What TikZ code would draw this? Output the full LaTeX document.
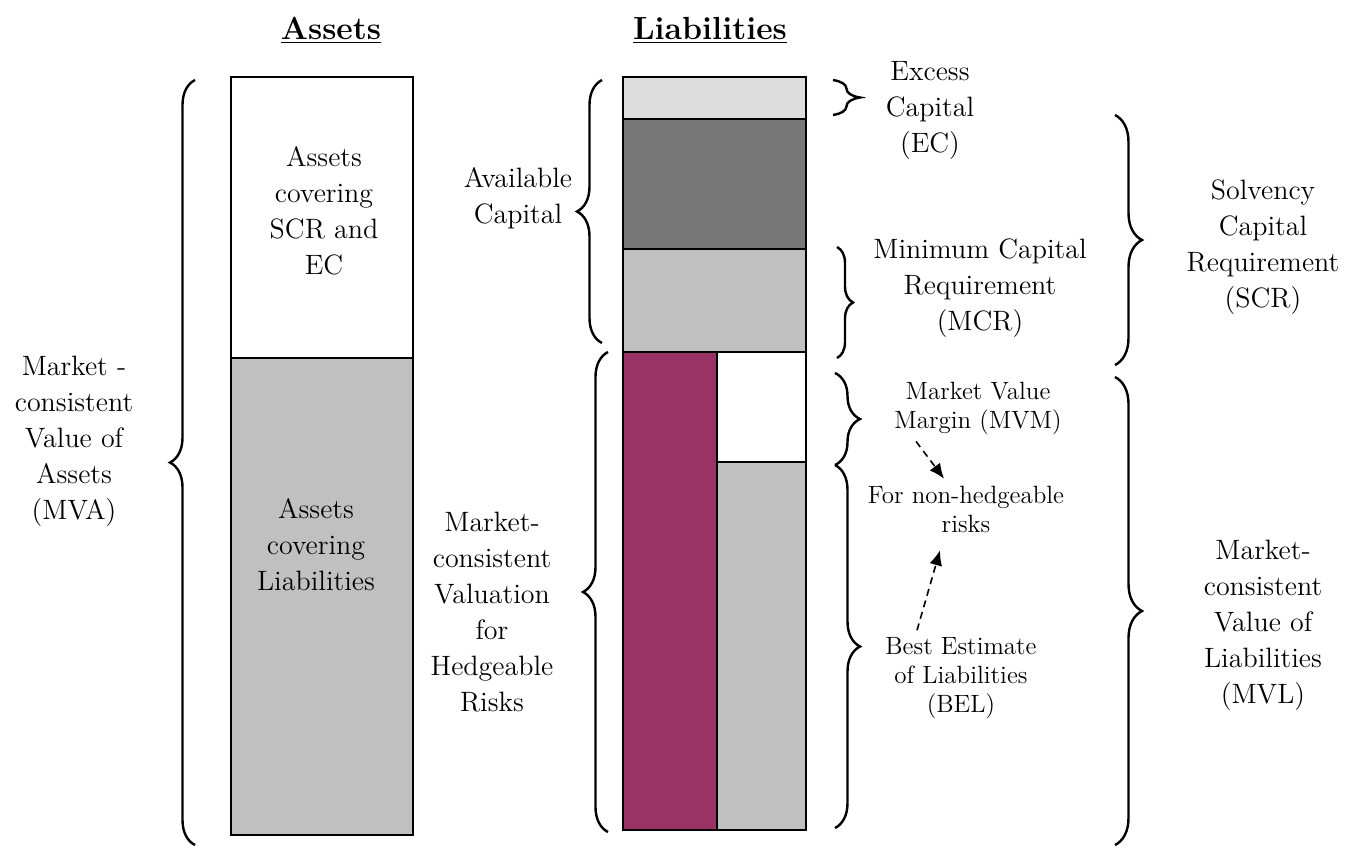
\documentclass[tikz,border=0pt]{standalone}
\usetikzlibrary{positioning,decorations.pathreplacing,arrows.meta}
\definecolor{maroon}{HTML}{993366}
\definecolor{lightgr}{HTML}{DDDDDD}
\definecolor{midgr}{HTML}{C0C0C0}
\definecolor{darkgr}{HTML}{777777}

\begin{document}
\begin{tikzpicture}[x=0.5pt, y=-0.5pt, every node/.style={font=\fontsize{14}{18}\selectfont, align=center}]
\tikzstyle{bar}=[draw, line width=1pt]
\tikzstyle{brc}=[decorate, decoration={brace, amplitude=12.5pt}, line width=1.2pt]
\tikzstyle{small}=[font=\fontsize{12.5}{14.5}\selectfont]
\tikzstyle{head}=[font=\fontsize{16}{20}\selectfont\bfseries]
\tikzstyle{dasharrow}=[dash pattern=on 3.5pt off 2.5pt, line width=0.8pt, -{Latex[length=7.5pt,width=6.5pt]}]
\useasboundingbox (0,0) rectangle (1348,847);

% headings
\node[head] (ha) at (331,30) {\underline{Assets}};
\node[head] (hl) at (710,30) {\underline{Liabilities}};

% asset column
\draw[bar, fill=white] (231,77) rectangle (413,358);
\draw[bar, fill=midgr] (231,358) rectangle (413,835);
\node (acs) at (324,211) {Assets\\covering\\SCR and\\EC};
\node (acl) at (316,545) {Assets\\covering\\Liabilities};

% liability column
\draw[bar, fill=lightgr] (623,77) rectangle (806,119);
\draw[bar, fill=darkgr] (623,119) rectangle (806,249);
\draw[bar, fill=midgr] (623,249) rectangle (806,352);
\draw[bar, fill=maroon] (623,352) rectangle (717,830);
\draw[bar, fill=white] (717,352) rectangle (806,462);
\draw[bar, fill=midgr] (717,462) rectangle (806,830);

% braces
\draw[brc] (195,845) -- (195,80);
\draw[brc] (602,343) -- (602,80);
\draw[brc] (608,832) -- (608,352);
\draw[brc, decoration={amplitude=13.5pt}] (833,80) -- (833,115);
\draw[brc, decoration={amplitude=8pt}] (837,247) -- (837,358);
\draw[brc, decoration={amplitude=13.5pt}] (1115,115) -- (1115,365);
\draw[brc] (835,373) -- (835,465);
\draw[brc] (835,465) -- (835,828);
\draw[brc, decoration={amplitude=13.5pt}] (1115,377) -- (1115,845);

% labels
\node (mva) at (74,441) {Market -\\consistent\\Value of\\Assets\\(MVA)};
\node (avail) at (518,198) {Available\\Capital};
\node (hedge) at (492,612) {Market-\\consistent\\Valuation\\for\\Hedgeable\\Risks};
\node (exc) at (930,110) {Excess\\Capital\\(EC)};
\node (mcr) at (980,288) {Minimum Capital\\Requirement\\(MCR)};
\node (scr) at (1263,247) {Solvency\\Capital\\Requirement\\(SCR)};
\node[small] (mvm) at (978,408) {Market Value\\Margin (MVM)};
\node[small] (nh) at (966,509) {For non-hedgeable\\risks};
\node[small] (bel) at (961,678) {Best Estimate\\of Liabilities\\(BEL)};
\node (mvl) at (1263,625) {Market-\\consistent\\Value of\\Liabilities\\(MVL)};

\draw[dasharrow] ([xshift=-31pt]mvm.south) -- ([xshift=-11pt]nh.north);
\draw[dasharrow] ([xshift=-22pt]bel.north) -- ([xshift=-13pt,yshift=-5.5pt]nh.south);
\end{tikzpicture}
\end{document}
